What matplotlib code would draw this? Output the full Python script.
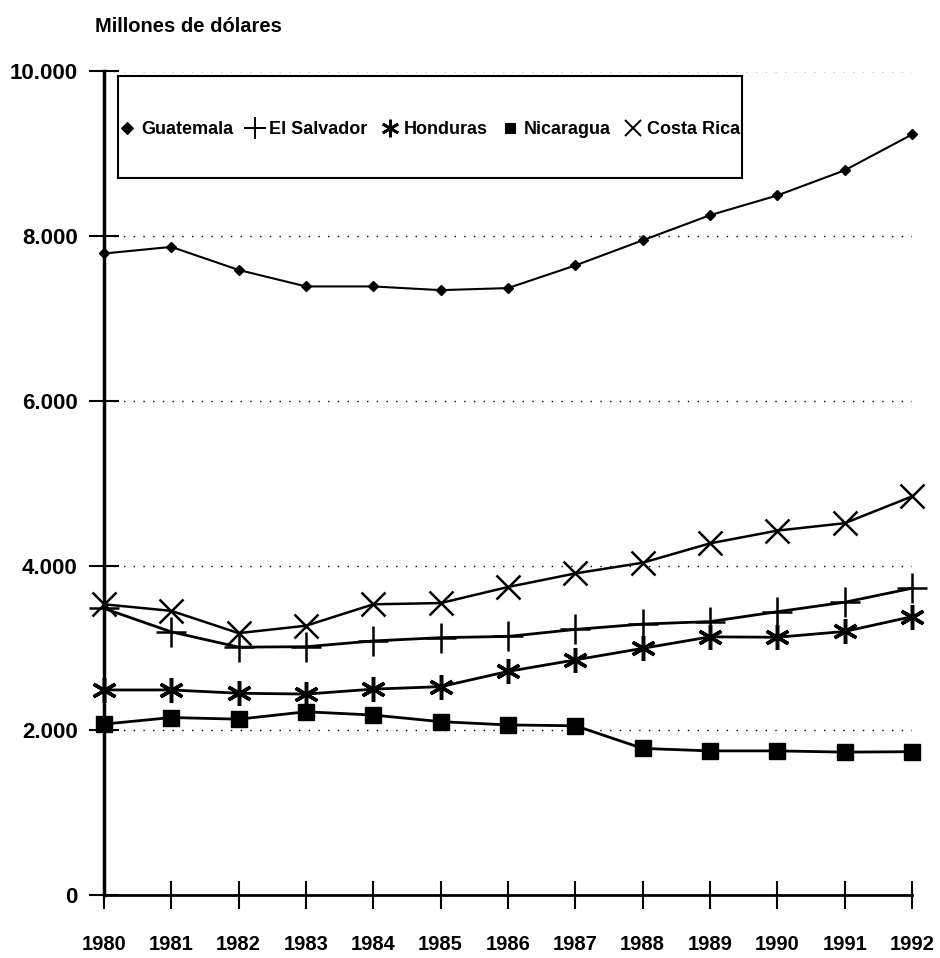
import matplotlib
matplotlib.use("Agg")
import matplotlib.pyplot as plt
from matplotlib.lines import Line2D
from matplotlib.patches import Rectangle
from matplotlib.ticker import FuncFormatter

plt.rcParams["font.family"] = ["Liberation Sans Narrow", "Liberation Sans", "DejaVu Sans"]
plt.rcParams["font.weight"] = "bold"

years = list(range(1980, 1993))

guatemala = [7790, 7870, 7590, 7390, 7390, 7345, 7370, 7645, 7950, 8255, 8495, 8800, 9235]
el_salvador = [3480, 3195, 3010, 3015, 3085, 3125, 3140, 3225, 3290, 3320, 3440, 3555, 3725]
honduras = [2490, 2490, 2450, 2440, 2500, 2530, 2715, 2855, 2995, 3135, 3130, 3200, 3380]
nicaragua = [2075, 2155, 2135, 2225, 2185, 2105, 2065, 2055, 1780, 1750, 1750, 1735, 1740]
costa_rica = [3530, 3450, 3180, 3270, 3530, 3545, 3740, 3905, 4035, 4270, 4425, 4515, 4840]

series_names = ["Guatemala", "El Salvador", "Honduras", "Nicaragua", "Costa Rica"]
y_ticks = [0, 2000, 4000, 6000, 8000, 10000]

# marker style per country, same order as series_names
STYLES = [
    dict(marker="D", ms=5, mew=1, lw=1.5),
    dict(marker="+", ms=22, mew=1.8, lw=2),
    dict(marker=(6, 2, 0), ms=18, mew=2.5, lw=2),
    dict(marker="s", ms=11, mew=1, lw=2),
    dict(marker="x", ms=17, mew=1.8, lw=1.8),
]

fig = plt.figure(figsize=(9.4, 9.58), dpi=100, facecolor="white")
ax = fig.add_axes([104 / 940, 1 - 895 / 958, 808 / 940, 823.5 / 958])

for values, style in zip([guatemala, el_salvador, honduras, nicaragua, costa_rica], STYLES):
    ax.plot(years, values, color="black", clip_on=False, zorder=3,
            markerfacecolor="black", markeredgecolor="black", **style)

ax.set_xlim(1980, 1992)
ax.set_ylim(0, 10000)
ax.set_xticks(years)
ax.set_yticks(y_ticks)
ax.yaxis.set_major_formatter(FuncFormatter(lambda v, _: f"{int(v):,}".replace(",", ".")))

ax.spines[["top", "right"]].set_visible(False)
ax.spines["left"].set_linewidth(2.5)
ax.spines["bottom"].set_linewidth(2)
ax.tick_params(axis="y", direction="inout", length=22, width=1.5, pad=8, labelsize=16)
ax.tick_params(axis="x", direction="inout", length=20, width=1.5, pad=19, labelsize=14.5)

ax.grid(axis="y", color="black", linestyle=(0, (1, 6)), linewidth=1)
ax.set_axisbelow(True)

# legend: boxed, single row, markers only
ax.add_patch(Rectangle((0.0173, 0.8707), 0.772, 0.1238, transform=ax.transAxes,
                       facecolor="white", edgecolor="black", linewidth=1.5, zorder=4))
handles = [
    Line2D([0], [0], color="black", linestyle="none",
           marker=s["marker"], markersize=s["ms"] * 0.7, markeredgewidth=s["mew"] * 0.8,
           markerfacecolor="black")
    for s in STYLES
]
handles[0].set_markersize(6)
leg = ax.legend(handles, series_names, ncol=5, frameon=False, loc="center",
                bbox_to_anchor=(0.0173 + 0.772 / 2, 0.8707 + 0.1238 / 2 - 0.003),
                fontsize=13, handlelength=0.8, handletextpad=0.35, columnspacing=0.85,
                borderaxespad=0)
leg.set_zorder(5)

fig.text(95 / 940, 1 - 27 / 958, "Millones de dólares", ha="left", va="center",
         fontsize=14.5, fontweight="bold")

fig.savefig("out.png", dpi=100, facecolor="white")
